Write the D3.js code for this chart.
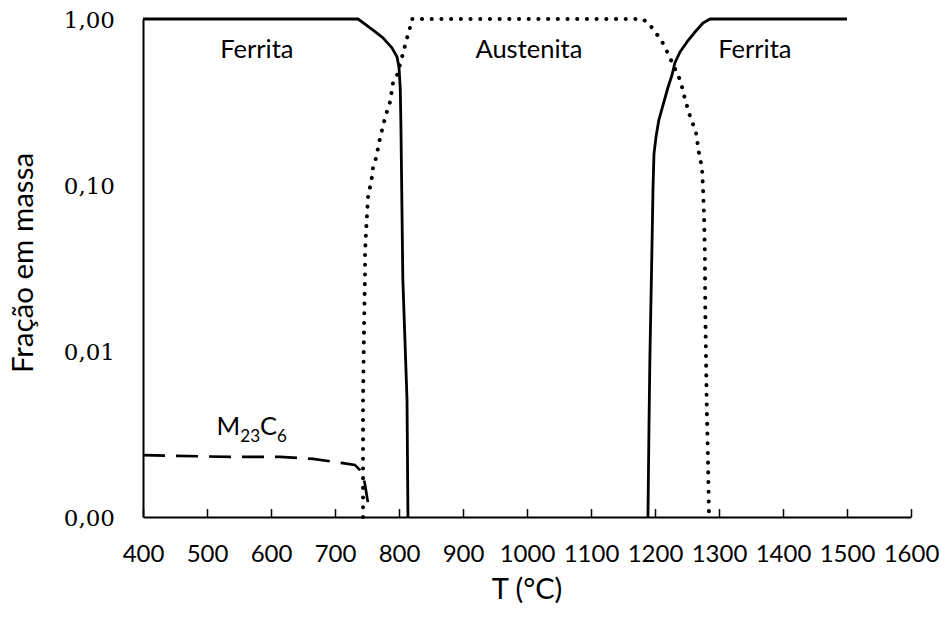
<!DOCTYPE html>
<html>
<head>
<meta charset="utf-8">
<script src="https://cdn.jsdelivr.net/npm/d3@7"></script>
<style>
  html, body { margin: 0; padding: 0; background: #fff; }
  svg { display: block; }
</style>
</head>
<body>
<svg id="chart" width="940" height="617"></svg>
<script>
// Mass fraction of phases vs temperature (log scale)
const xTicks = [400, 500, 600, 700, 800, 900, 1000, 1100, 1200, 1300, 1400, 1500, 1600];
const yTicks = [0.001, 0.01, 0.1, 1];

// Ferrita (low temperature)
const ferritaLowT = [400, 736, 759, 775, 789, 797, 800, 802, 803, 806, 812.5, 814];
const ferritaLowF = [1, 1, 0.86, 0.77, 0.67, 0.59, 0.51, 0.38, 0.23, 0.027, 0.0051, 0.001];

// Austenita
const austenitaT = [743.8, 743.8, 745.3, 746.9, 746.9, 748.4, 750, 751.6, 754.7, 757.8, 759.4, 764, 767, 770, 773, 776.6, 781, 786, 790.6, 797, 804.7, 812.5, 817, 820,
  1179.7, 1190.6, 1198.4, 1207.8, 1215.6, 1221.9, 1228, 1234, 1240.6, 1243.8, 1248, 1251.6, 1256, 1262.5, 1265.6, 1267, 1270, 1273.4, 1275, 1276.6, 1278, 1278.5, 1279.7, 1281, 1282.8, 1284.4];
const austenitaF = [0.001, 0.0051, 0.0134, 0.0295, 0.039, 0.051, 0.066, 0.085, 0.097, 0.112, 0.128, 0.145, 0.165, 0.189, 0.211, 0.24, 0.275, 0.316, 0.411, 0.46, 0.59, 0.768, 0.883, 1,
  1, 0.946, 0.847, 0.768, 0.678, 0.598, 0.536, 0.473, 0.417, 0.363, 0.321, 0.283, 0.25, 0.217, 0.195, 0.169, 0.147, 0.127, 0.096, 0.066, 0.037, 0.018, 0.009, 0.0044, 0.0022, 0.001];

// Ferrita (high temperature)
const ferritaHighT = [1189, 1190.6, 1192, 1195, 1196.9, 1198.4, 1201.6, 1206, 1212.5, 1220, 1226.6, 1231, 1239, 1250, 1262.5, 1275, 1286, 1500];
const ferritaHighF = [0.001, 0.0035, 0.009, 0.037, 0.096, 0.154, 0.195, 0.246, 0.303, 0.384, 0.46, 0.543, 0.633, 0.727, 0.835, 0.946, 1, 1];

// M23C6 carbide
const carbideT = [400, 536, 614, 665.6, 712.5, 731, 739, 743.8, 747, 750, 753];
const carbideF = [0.00236, 0.0023, 0.0023, 0.00224, 0.00211, 0.00206, 0.00192, 0.00179, 0.00156, 0.00132, 0.00112];

const svg = d3.select("#chart");
const plotLeft = 143, plotRight = 911, plotTop = 19, plotBottom = 517;

const x = d3.scaleLinear().domain([400, 1600]).range([plotLeft, plotRight]);
const y = d3.scaleLog().domain([0.001, 1]).range([plotBottom, plotTop]);

const sans = "Lato, 'Open Sans', sans-serif";
const serif = "'DejaVu Serif', 'Liberation Serif', serif";

const zip = (ts, fs) => ts.map((t, i) => [t, fs[i]]);
const line = d3.line().x(d => x(d[0])).y(d => y(d[1])).curve(d3.curveLinear);

// Curves
const g = svg.append("g").attr("fill", "none").attr("stroke", "#000");
g.append("path").datum(zip(carbideT, carbideF)).attr("d", line)
  .attr("stroke-width", 2.7).attr("stroke-dasharray", "22 11");
g.append("path").datum(zip(austenitaT, austenitaF)).attr("d", line)
  .attr("stroke-width", 4).attr("stroke-linecap", "round").attr("stroke-dasharray", "0.1 9.6");
g.append("path").datum(zip(ferritaLowT, ferritaLowF)).attr("d", line)
  .attr("stroke-width", 2.8).attr("stroke-linejoin", "round");
g.append("path").datum(zip(ferritaHighT, ferritaHighF)).attr("d", line)
  .attr("stroke-width", 2.8).attr("stroke-linejoin", "round");

// X axis: ticks pointing inward
const xAxis = svg.append("g").attr("transform", `translate(0,${plotBottom})`)
  .call(d3.axisBottom(x).tickValues(xTicks).tickSizeInner(-8).tickSizeOuter(0).tickPadding(0).tickFormat(d3.format("d")));
xAxis.select(".domain").attr("stroke-width", 2);
xAxis.selectAll(".tick line").attr("stroke-width", 1.5);
xAxis.selectAll(".tick text")
  .attr("font-family", sans).attr("font-size", 24).attr("fill", "#000")
  .attr("y", 45).attr("dy", 0);

// Y axis: line and labels only
const yAxis = svg.append("g").attr("transform", `translate(${plotLeft},0)`)
  .call(d3.axisLeft(y).tickValues(yTicks).tickSize(0).tickPadding(28)
    .tickFormat(d => d3.format(".2f")(d).replace(".", ",")));
yAxis.select(".domain").attr("stroke-width", 2);
yAxis.selectAll(".tick text")
  .attr("font-family", serif).attr("font-size", 23).attr("fill", "#000")
  .attr("dy", "0.36em");

// Axis titles
svg.append("text").attr("x", (plotLeft + plotRight) / 2).attr("y", 599)
  .attr("text-anchor", "middle").attr("font-family", sans).attr("font-size", 29)
  .text("T (°C)");
svg.append("text").attr("transform", `translate(33,${(plotTop + plotBottom) / 2 - 5}) rotate(-90)`)
  .attr("text-anchor", "middle").attr("font-family", sans).attr("font-size", 29.5)
  .text("Fração em massa");

// Phase labels
const phaseLabels = [
  { t: 578, text: "Ferrita" },
  { t: 1003, text: "Austenita" },
  { t: 1356, text: "Ferrita" }
];
svg.selectAll("text.phase").data(phaseLabels).enter().append("text")
  .attr("class", "phase")
  .attr("x", d => x(d.t)).attr("y", 58)
  .attr("text-anchor", "middle").attr("font-family", sans).attr("font-size", 25.5)
  .text(d => d.text);

const m = svg.append("text").attr("x", x(515)).attr("y", 435)
  .attr("font-family", sans).attr("font-size", 25.5);
m.append("tspan").text("M");
m.append("tspan").attr("font-size", 17).attr("dy", 7).text("23");
m.append("tspan").attr("dy", -7).text("C");
m.append("tspan").attr("font-size", 17).attr("dy", 7).text("6");
</script>
</body>
</html>
